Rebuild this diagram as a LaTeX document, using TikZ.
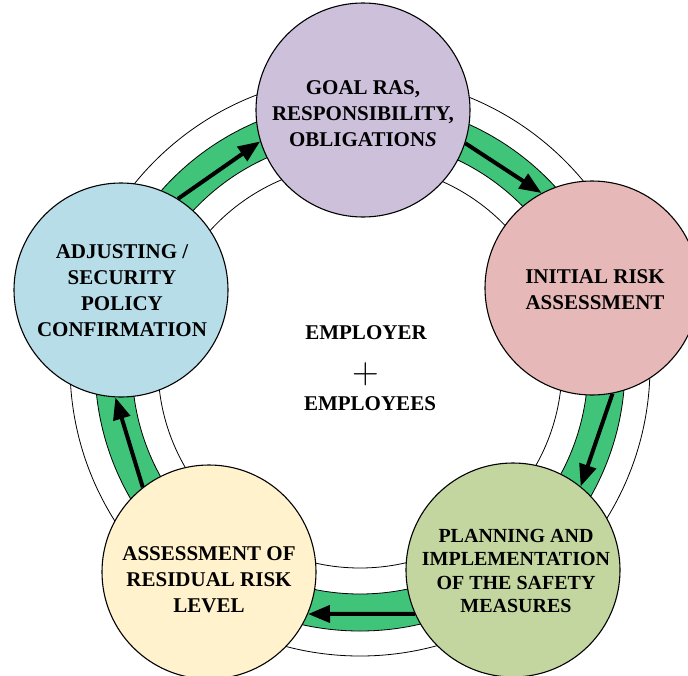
\documentclass[tikz,border=0pt]{standalone}
\usepackage{fontspec}
\setmainfont{Liberation Serif}
\usetikzlibrary{arrows.meta}

\definecolor{bandgreen}{RGB}{64,196,122}
\definecolor{goalfill}{RGB}{204,192,218}
\definecolor{initialfill}{RGB}{230,185,184}
\definecolor{planfill}{RGB}{195,214,160}
\definecolor{residualfill}{RGB}{255,242,204}
\definecolor{adjustfill}{RGB}{183,221,232}

\begin{document}
\begin{tikzpicture}[x=1pt,y=-1pt,
  stage/.style={circle, draw=black, line width=1.1pt, minimum size=214pt,
    inner sep=0pt},
  stagetext/.style={align=center, text=black, inner sep=0pt,
    font=\bfseries\fontsize{21}{26}\selectfont},
  flow/.style={line width=4pt, -{Triangle[length=22pt,width=17pt]}},
  ringline/.style={draw=black, line width=0.8pt},
  hubtext/.style={font=\bfseries\fontsize{21}{26}\selectfont, anchor=base,
    inner sep=0pt}]

\useasboundingbox (0,0) rectangle (688,675);
\clip (0,0) rectangle (688,675);

% concentric rings around the cycle
\coordinate (hub) at (360,366);
\draw[ringline] (hub) circle[radius=290];
\draw[ringline] (hub) circle[radius=202];
\draw[ringline, fill=bandgreen, even odd rule]
  (hub) circle[radius=265] (hub) circle[radius=228];

% the five stages
\node[stage, fill=goalfill]     (goal)     at (363,110) {};
\node[stage, fill=initialfill]  (initial)  at (592,288) {};
\node[stage, fill=planfill]     (planning) at (513,570) {};
\node[stage, fill=residualfill] (residual) at (209,572) {};
\node[stage, fill=adjustfill]   (adjust)   at (121,290) {};

% stage captions
\node[stagetext] (goal-text) at (363,114)
  {GOAL RAS,\\RESPONSIBILITY,\\OBLIGATION\textit{S}};
\node[stagetext] (initial-text) at (595,290)
  {INITIAL RISK\\ASSESSMENT};
\node[stagetext, font=\bfseries\fontsize{20}{23.5}\selectfont] (planning-text) at (516,571)
  {PLANNING AND\\IMPLEMENTATION\\OF THE SAFETY\\MEASURES};
\node[stagetext] (residual-text) at (209,580)
  {ASSESSMENT OF\\RESIDUAL RISK\\LEVEL};
\node[stagetext] (adjust-text) at (122,291)
  {ADJUSTING /\\SECURITY\\POLICY\\CONFIRMATION};

% centre caption
\node[hubtext] (employer) at (366,339) {EMPLOYER};
\node[font=\fontfamily{lmr}\fontsize{37}{37}\selectfont, inner sep=0pt] (plus) at (366,374) {+};
\node[hubtext] (employees) at (370,410) {EMPLOYEES};

% clockwise flow between stages
\draw[flow] (adjust.58) -- (goal.197);
\draw[flow] (goal.342) -- (initial.118);
\draw[flow] (initial.281) -- (planning.51);
\draw[flow] (planning.204) -- (residual.337);
\draw[flow] (residual.128) -- (adjust.267);
\end{tikzpicture}
\end{document}
